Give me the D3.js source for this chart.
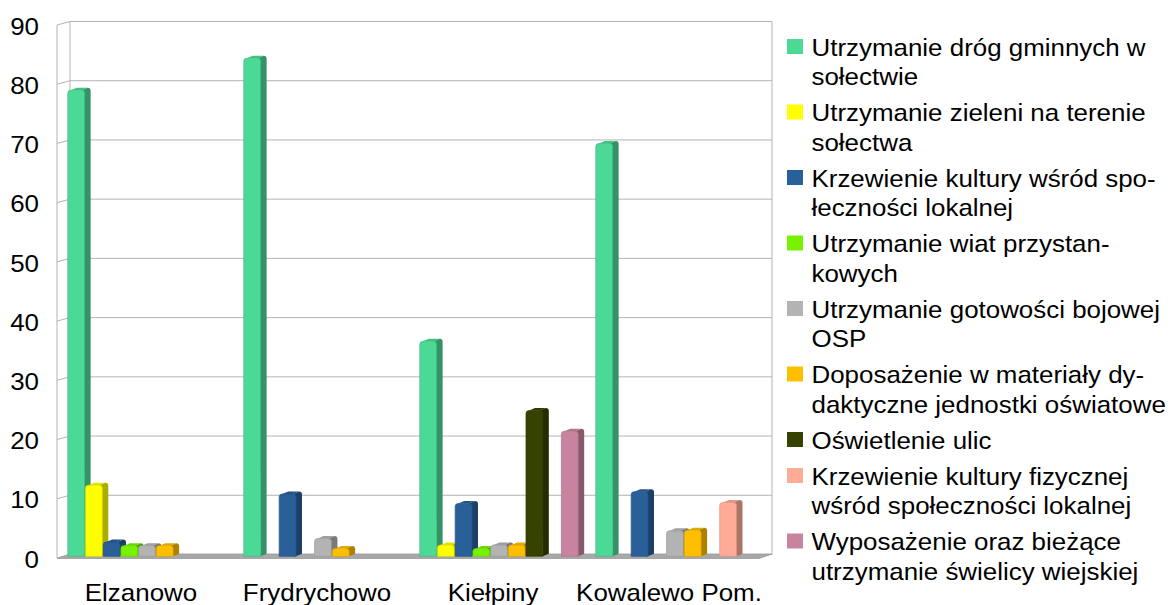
<!DOCTYPE html>
<html><head><meta charset="utf-8">
<script src="https://cdn.jsdelivr.net/npm/d3@7"></script>
<style>
html,body{margin:0;padding:0;background:#fff;}
svg text{font-family:"Liberation Sans",Arial,sans-serif;fill:#000;}
</style></head>
<body><svg id="c" width="1173" height="605"></svg>
<script>
const categories = ["Elzanowo","Frydrychowo","Kiełpiny","Kowalewo Pom."];
const seriesNames = [
  "Utrzymanie dróg gminnych w sołectwie",
  "Utrzymanie zieleni na terenie sołectwa",
  "Krzewienie kultury wśród społeczności lokalnej",
  "Utrzymanie wiat przystankowych",
  "Utrzymanie gotowości bojowej OSP",
  "Doposażenie w materiały dydaktyczne jednostki oświatowe",
  "Oświetlenie ulic",
  "Krzewienie kultury fizycznej wśród społeczności lokalnej",
  "Wyposażenie oraz bieżące utrzymanie świelicy wiejskiej"
];
const legendLines = [
  ["Utrzymanie dróg gminnych w","sołectwie"],
  ["Utrzymanie zieleni na terenie","sołectwa"],
  ["Krzewienie kultury wśród spo-","łeczności lokalnej"],
  ["Utrzymanie wiat przystan-","kowych"],
  ["Utrzymanie gotowości bojowej","OSP"],
  ["Doposażenie w materiały dy-","daktyczne jednostki oświatowe"],
  ["Oświetlenie ulic"],
  ["Krzewienie kultury fizycznej","wśród społeczności lokalnej"],
  ["Wyposażenie oraz bieżące","utrzymanie świelicy wiejskiej"]
];
const drogi       = [78.7, 84.1, 36.3, 69.7];
const zielen      = [12.0, 0, 1.9, 0];
const kultura     = [2.4, 10.5, 8.9, 10.9];
const wiaty       = [1.8, 0, 1.3, 0];
const osp         = [1.8, 3.0, 1.9, 4.3];
const dydaktyka   = [1.8, 1.3, 1.9, 4.4];
const oswietlenie = [0, 0, 24.6, 0];
const fizyczna    = [0, 0, 0, 9.1];
const swietlica   = [0, 0, 21.1, 0];
const seriesValues = [drogi, zielen, kultura, wiaty, osp, dydaktyka, oswietlenie, fizyczna, swietlica];
const colors = ["#4bd995","#ffff00","#2a6099","#77f200","#b3b3b3","#ffbf00","#354200","#ffab97","#c8849e"];
const yTicks = [0,10,20,30,40,50,60,70,80,90];

const svg = d3.select("#c");
const FS = 24, SX = 1.08;
function txt(g, x, y, s, anchor){
  return g.append("text").attr("transform",`translate(${x},${y}) scale(${SX},1)`)
    .attr("text-anchor",anchor||"start").style("font-size",FS+"px").text(s);
}

// geometry
const backL = 70, backR = 772, depthDX = -13, depthDY = 3.5;
const y = d3.scaleLinear().domain([0,90]).range([554.5, 21.5]);
const yBar = d3.scaleLinear().domain([0,90]).range([556.3, 23.3]);
const x0 = d3.scaleBand().domain(categories).range([59, 763]).paddingInner(0.1).paddingOuter(0.05);
const x1 = d3.scaleBand().domain(d3.range(seriesNames.length)).range([0, x0.bandwidth()]).paddingInner(0.05);

const frame = svg.append("g").attr("stroke","#b3b3b3").attr("stroke-width",1).attr("fill","none");
yTicks.forEach(t=>{
  frame.append("line").attr("x1",backL).attr("x2",backR).attr("y1",y(t)).attr("y2",y(t));
  frame.append("line").attr("x1",backL+depthDX).attr("y1",y(t)+depthDY).attr("x2",backL).attr("y2",y(t));
});
frame.append("line").attr("x1",backL).attr("x2",backL).attr("y1",y(90)).attr("y2",y(0));
frame.append("line").attr("x1",backL+depthDX).attr("x2",backL+depthDX).attr("y1",y(90)+depthDY).attr("y2",y(0)+depthDY);
frame.append("line").attr("x1",backR).attr("x2",backR).attr("y1",y(90)).attr("y2",y(0));
// floor
svg.append("polygon")
  .attr("points",[[backL+depthDX,y(0)+depthDY+0.5],[backR+depthDX,y(0)+depthDY+0.5],[backR,y(0)-0.5],[backL,y(0)-0.5]].map(p=>p.join(",")).join(" "))
  .attr("fill","#a8a8a8").attr("stroke","#9a9a9a").attr("stroke-width",0.8);

// y labels
const yl = svg.append("g");
yTicks.forEach(t=> txt(yl, 39, y(t)+depthDY+1, t, "end").attr("dominant-baseline","central"));

// bars
const bdx = 6, bdy = -2.5;
const bars = svg.append("g");
function shade(c,k){ return d3.color(c).darker(k).formatHex(); }
categories.forEach((cat,ci)=>{
  seriesValues.forEach((vals,si)=>{
    const v = vals[ci];
    if(!v) return;
    const xl = x0(cat) + x1(si), w = x1.bandwidth();
    const yt = yBar(v), yb = yBar(0);
    const r = Math.min(3, (yb-yt)/2);
    const g = bars.append("g");
    g.append("path").attr("d",`M${xl+w},${yb} L${xl+w+bdx},${yb+bdy} L${xl+w+bdx},${yt+bdy+r} Q${xl+w+bdx},${yt+bdy} ${xl+w+bdx-r},${yt+bdy} L${xl+w-r},${yt} Z`)
      .attr("fill",shade(colors[si],1.1));
    g.append("path").attr("d",`M${xl+r},${yt} L${xl+r+bdx},${yt+bdy} L${xl+w+bdx-r},${yt+bdy} L${xl+w-r},${yt} Z`)
      .attr("fill",shade(colors[si],0.35));
    g.append("path").attr("d",`M${xl},${yb} L${xl},${yt+r} Q${xl},${yt} ${xl+r},${yt} L${xl+w-r},${yt} Q${xl+w},${yt} ${xl+w},${yt+r} L${xl+w},${yb} Z`)
      .attr("fill",colors[si]).attr("stroke",shade(colors[si],0.4)).attr("stroke-width",0.7);
  });
});

// category labels
const cl = svg.append("g");
categories.forEach(c=> txt(cl, x0(c)+x0.bandwidth()/2-6, 601, c, "middle"));

// legend
const lg = svg.append("g");
const LH = 29.5, GAP = 6.5;
let ty = 39;
legendLines.forEach((lines,i)=>{
  lg.append("rect").attr("x",787).attr("y",ty).attr("width",16).attr("height",15).attr("fill",colors[i]);
  lines.forEach((ln,li)=> txt(lg, 811.5, ty+16.5+li*LH, ln));
  ty += lines.length*LH + GAP;
});
</script></body></html>
